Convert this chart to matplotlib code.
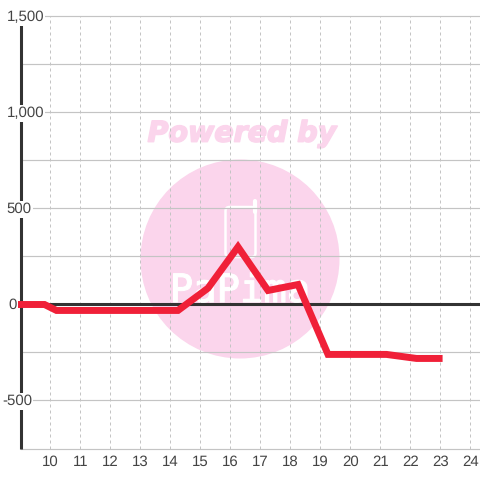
import matplotlib
matplotlib.use("Agg")
import matplotlib.pyplot as plt
import matplotlib.patheffects as pe
from matplotlib.patches import Circle, FancyBboxPatch
from matplotlib.transforms import blended_transform_factory

plt.rcParams["text.hinting"] = "no_hinting"

hours = [8.9, 9.8, 10.2, 14.25, 15.25, 16.25, 17.25, 18.25, 19.25, 20.2, 21.2, 22.2, 23.07]
values = [0, 0, -31, -31, 85, 300, 73, 104, -260, -260, -260, -281, -281]
x_ticks = [10, 11, 12, 13, 14, 15, 16, 17, 18, 19, 20, 21, 22, 23, 24]
y_grid = [-750, -500, -250, 0, 250, 500, 750, 1000, 1250, 1500]
y_labels = {1500: "1,500", 1000: "1,000", 500: "500", 0: "0", -500: "-500"}
label_left = {1500: 6.5, 1000: 6.5, 500: 6.5, 0: 8, -500: 2}

PINK = "#fbd5ec"
GREY = "#c4c4c4"
DARK = "#333333"
TEXT = "#444444"
RED = "#f02038"
FONT = "Liberation Sans"

fig = plt.figure(figsize=(4.8, 4.8), dpi=100, facecolor="white")

# watermark sits behind the chart, in pixel coordinates
bg = fig.add_axes([0, 0, 1, 1], zorder=0)
bg.set_xlim(0, 480)
bg.set_ylim(480, 0)
bg.axis("off")
bg.add_patch(Circle((240, 259), 99.5, color=PINK, lw=0))
bg.text(242, 134, "Powered by", color=PINK, fontsize=20.5, family="DejaVu Sans",
        weight="bold", style="italic", ha="center", va="center",
        path_effects=[pe.withStroke(linewidth=1.2, foreground=PINK)])
bg.add_patch(FancyBboxPatch((225.5, 207), 30, 50, boxstyle="round,pad=0,rounding_size=4",
                            fc="none", ec="white", lw=1.8))
bg.plot([254.5, 254.5], [201, 212], color="white", lw=3, solid_capstyle="round")
bg.text(240, 302, "PaPima", color="white", fontsize=28, family="DejaVu Sans Mono",
        ha="center", va="baseline",
        path_effects=[pe.withStroke(linewidth=0.8, foreground="white")])

ax = fig.add_axes([20.5 / 480, 1 - 448.5 / 480, 459.5 / 480, 432 / 480], zorder=1)
ax.patch.set_alpha(0)
ax.set_xlim(9, 24.317)
ax.set_ylim(-750, 1500)

for s in ["top", "right", "bottom"]:
    ax.spines[s].set_visible(False)
ax.spines["left"].set_color(DARK)
ax.spines["left"].set_linewidth(2.2)
ax.spines["left"].set_zorder(3)
ax.spines["left"].set_capstyle("butt")

ax.set_yticks(y_grid)
ax.set_xticks(x_ticks)
ax.set_yticklabels([])
ax.tick_params(axis="y", length=0)
ax.tick_params(axis="x", length=0, pad=5, labelsize=10.8, labelcolor=TEXT)
for t in ax.get_xticklabels():
    t.set_family(FONT)

ax.grid(axis="y", color=GREY, lw=0.85, zorder=1, clip_on=False)
ax.grid(axis="x", color=GREY, lw=0.72, linestyle=(0, (3, 3)), zorder=1)
ax.set_axisbelow(True)

ax.axhline(0, color=DARK, lw=2.2, zorder=3)
ax.plot(hours, values, color=RED, lw=5, solid_joinstyle="miter",
        solid_capstyle="butt", zorder=4, clip_on=False)

trans = blended_transform_factory(fig.transFigure, ax.transData)
for val, lab in y_labels.items():
    ax.annotate(lab, xy=(label_left[val] / 480, val), xycoords=trans, xytext=(0, -0.7),
                textcoords="offset points", ha="left", va="center",
                color=TEXT, fontsize=10.8, family=FONT, zorder=5, annotation_clip=False,
                bbox=dict(fc="white", ec="none", pad=1))

fig.savefig("out.png", dpi=100)
